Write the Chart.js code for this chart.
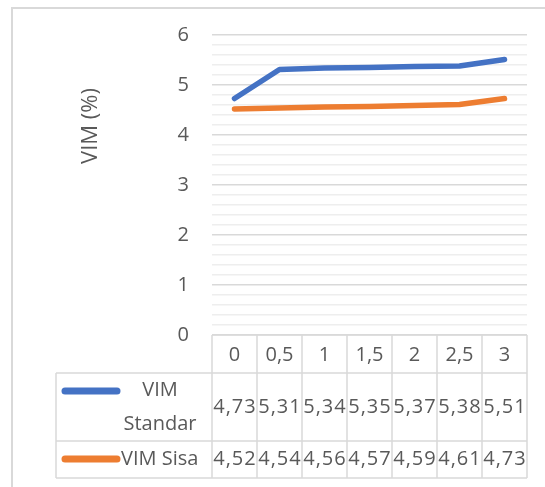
<!DOCTYPE html>
<html>
<head>
<meta charset="utf-8">
<script src="https://cdn.jsdelivr.net/npm/chart.js@4"></script>
<style>
  body { margin: 0; background: #fff; }
</style>
</head>
<body>
<canvas id="myChart" width="545" height="487"></canvas>
<script>
/* Data section */
var categories = ["0", "0,5", "1", "1,5", "2", "2,5", "3"];
var vimStandar = [4.73, 5.31, 5.34, 5.35, 5.37, 5.38, 5.51];
var vimSisa = [4.52, 4.54, 4.56, 4.57, 4.59, 4.61, 4.73];
var seriesNames = [["VIM", "Standar"], ["VIM Sisa"]];
var axisTitle = "VIM (%)";

var textColor = '#595959';
var lineColor = '#d9d9d9';
var fontFam = '"Open Sans", sans-serif';

function isMajor(v) {
    return Math.abs(v - Math.round(v)) < 1e-6;
}

/* Frame, axis title and data table */
var tablePlugin = {
    id: 'dataTable',
    beforeDraw: function (chart) {
        var c = chart.ctx;
        c.save();
        c.fillStyle = '#fff';
        c.fillRect(0, 0, chart.width, chart.height);
        c.strokeStyle = lineColor;
        c.lineWidth = 2;
        c.strokeRect(12, 8, chart.width + 10, chart.height + 10);
        c.restore();
    },
    afterDraw: function (chart) {
        var c = chart.ctx;
        var xs = chart.scales.x;
        var area = chart.chartArea;
        var half = (xs.getPixelForValue(1) - xs.getPixelForValue(0)) / 2;
        var left = 56, top = area.bottom;
        var r1 = 373, r2 = 441, bottom = 478;
        var x1 = xs.getPixelForValue(categories.length - 1) + half;

        c.save();
        c.strokeStyle = lineColor;
        c.lineWidth = 1.5;
        c.beginPath();
        c.moveTo(xs.getPixelForValue(0) - half, top); c.lineTo(x1, top);
        [r1, r2, bottom].forEach(function (y) {
            c.moveTo(left, y); c.lineTo(x1, y);
        });
        c.moveTo(left, r1); c.lineTo(left, bottom);
        for (var i = 0; i <= categories.length; i++) {
            var x = xs.getPixelForValue(0) - half + i * half * 2;
            c.moveTo(x, top); c.lineTo(x, bottom);
        }
        c.stroke();

        // cell texts
        c.fillStyle = textColor;
        c.font = '20px ' + fontFam;
        c.textAlign = 'center';
        c.textBaseline = 'middle';
        categories.forEach(function (lab, i) {
            c.fillText(lab, xs.getPixelForValue(i), (top + r1) / 2 + 1);
        });
        c.letterSpacing = '1px';
        vimStandar.forEach(function (v, i) {
            c.fillText(v.toFixed(2).replace('.', ','), xs.getPixelForValue(i) + 0.5, (r1 + r2) / 2);
        });
        vimSisa.forEach(function (v, i) {
            c.fillText(v.toFixed(2).replace('.', ','), xs.getPixelForValue(i) + 0.5, (r2 + bottom) / 2);
        });
        c.letterSpacing = '0px';

        // legend keys
        c.lineCap = 'round';
        c.lineWidth = 7;
        c.strokeStyle = chart.data.datasets[0].borderColor;
        c.beginPath(); c.moveTo(65, 391); c.lineTo(117, 391); c.stroke();
        c.strokeStyle = chart.data.datasets[1].borderColor;
        c.beginPath(); c.moveTo(65, 459); c.lineTo(117, 459); c.stroke();

        c.fillText(seriesNames[0][0], 160, 390);
        c.fillText(seriesNames[0][1], 160, 424);
        c.textAlign = 'left';
        c.fillText(seriesNames[1][0], 121, 459);

        // axis title
        c.translate(91, 126);
        c.rotate(-Math.PI / 2);
        c.textAlign = 'center';
        c.font = '22px ' + fontFam;
        c.fillText(axisTitle, 0, 0);
        c.restore();
    }
};

/* Chart section */
var ctx = document.getElementById('myChart').getContext('2d');
var myChart = new Chart(ctx, {
    type: 'line',
    data: {
        labels: categories,
        datasets: [{
            data: vimStandar,
            label: "VIM Standar",
            borderColor: "#4472c4",
            backgroundColor: "#4472c4",
        }, {
            data: vimSisa,
            label: "VIM Sisa",
            borderColor: "#ed7d31",
            backgroundColor: "#ed7d31",
        }
        ]
    },
    options: {
        responsive: false,
        animation: false,
        devicePixelRatio: 1,
        layout: { padding: { left: 0, right: 18, top: 35, bottom: 152 } },
        elements: {
            point: { radius: 0 },
            line: { borderWidth: 5.5, borderCapStyle: 'round', borderJoinStyle: 'round', tension: 0 }
        },
        plugins: {
            legend: { display: false },
            tooltip: { enabled: false }
        },
        scales: {
            x: { display: false, offset: true },
            y: {
                min: 0,
                max: 6,
                afterFit: function (scale) { scale.width = 212; },
                border: { display: false },
                grid: {
                    drawTicks: false,
                    lineWidth: 1.5,
                    color: function (c) { return isMajor(c.tick.value) ? '#d9d9d9' : '#eeeeee'; }
                },
                ticks: {
                    stepSize: 0.2,
                    autoSkip: false,
                    padding: 23,
                    color: textColor,
                    font: { family: fontFam, size: 20 },
                    callback: function (v) { return isMajor(v) ? String(Math.round(v)) : ''; }
                }
            }
        }
    },
    plugins: [tablePlugin]
});
</script>
</body>
</html>
